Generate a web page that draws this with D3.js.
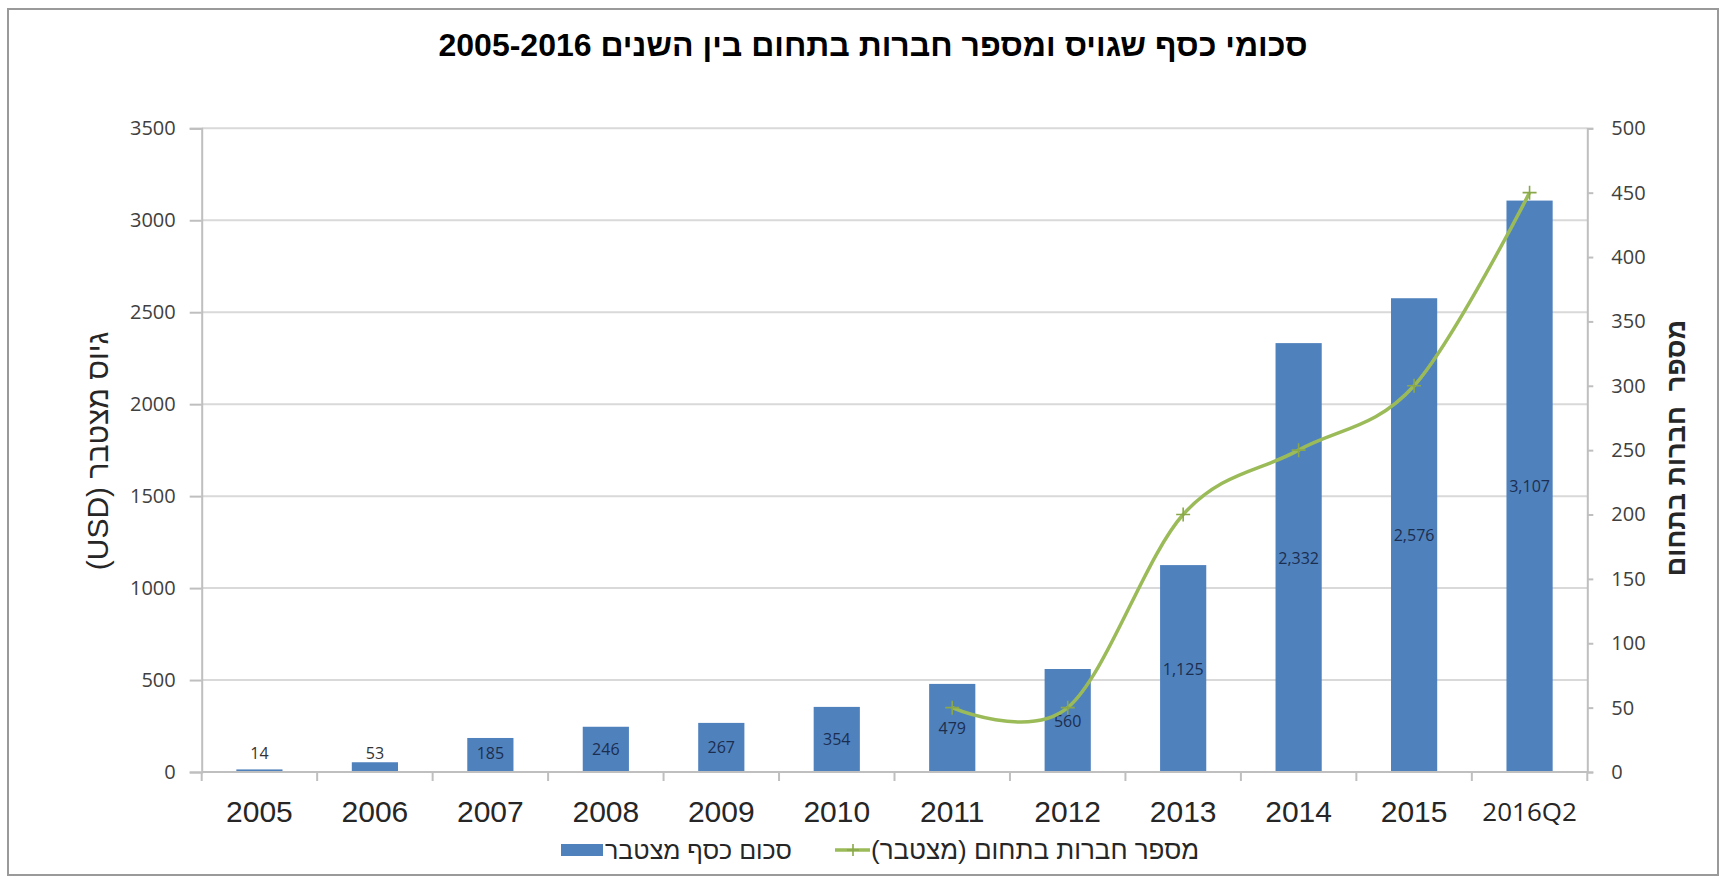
<!DOCTYPE html>
<html><head><meta charset="utf-8">
<script src="https://cdn.jsdelivr.net/npm/d3@7/dist/d3.min.js"></script>
<style>
html,body{margin:0;padding:0;background:#fff;}
svg{display:block;}
</style></head>
<body>
<svg id="chart" width="1723" height="882"></svg>
<script>
// ---- data ----
const categories = ["2005","2006","2007","2008","2009","2010","2011","2012","2013","2014","2015","2016Q2"];
const amounts = [14, 53, 185, 246, 267, 354, 479, 560, 1125, 2332, 2576, 3107];
const amountLabels = ["14","53","185","246","267","354","479","560","1,125","2,332","2,576","3,107"];
const companies = [null, null, null, null, null, null, 50, 50, 200, 250, 300, 450];
const leftTicks = [0, 500, 1000, 1500, 2000, 2500, 3000, 3500];
const rightTicks = [0, 50, 100, 150, 200, 250, 300, 350, 400, 450, 500];
const title = "סכומי כסף שגויס ומספר חברות בתחום בין השנים 2005-2016";
const leftAxisTitle = "גיוס מצטבר (USD)";
const rightAxisTitle = "מספר  חברות בתחום";
const barSeriesName = "סכום כסף מצטבר";
const lineSeriesName = "מספר חברות בתחום (מצטבר)";

// ---- layout ----
const svg = d3.select("#chart");
const plotL = 201.7, plotR = 1587.3, plotT = 128.3, plotB = 772;
const barColor = "#4f81bd", lineColor = "#9bbb59";
const gridColor = "#d9d9d9", axisColor = "#bfbfbf", textColor = "#404040";

// outer border
svg.append("rect").attr("x", 8).attr("y", 9).attr("width", 1710).attr("height", 866)
  .attr("fill", "none").attr("stroke", "#9a9a9a").attr("stroke-width", 2);

const x = d3.scaleBand().domain(categories).range([plotL, plotR]).paddingInner(0.6).paddingOuter(0.3);
const yL = d3.scaleLinear().domain([0, 3500]).range([plotB, plotT]);
const yR = d3.scaleLinear().domain([0, 500]).range([plotB, plotT]);
const step = x.step();
const bw = x.bandwidth();

// gridlines
svg.append("g").selectAll("line").data(leftTicks.filter(d => d > 0)).join("line")
  .attr("x1", plotL).attr("x2", plotR)
  .attr("y1", d => yL(d)).attr("y2", d => yL(d))
  .attr("stroke", gridColor).attr("stroke-width", 2);

// left axis
const gL = svg.append("g").attr("transform", `translate(${plotL},0)`)
  .call(d3.axisLeft(yL).tickValues(leftTicks).tickSize(12).tickPadding(14).tickFormat(d3.format("d")));
gL.select(".domain").attr("stroke", axisColor).attr("stroke-width", 2);
gL.selectAll(".tick line").attr("stroke", axisColor).attr("stroke-width", 2);
gL.selectAll(".tick text").attr("font-family", "Open Sans").attr("font-size", 20).attr("fill", textColor);

// right axis
const gR = svg.append("g").attr("transform", `translate(${plotR},0)`)
  .call(d3.axisRight(yR).tickValues(rightTicks).tickSize(6).tickPadding(18).tickFormat(d3.format("d")));
gR.select(".domain").attr("stroke", axisColor).attr("stroke-width", 2);
gR.selectAll(".tick line").attr("stroke", axisColor).attr("stroke-width", 2);
gR.selectAll(".tick text").attr("font-family", "Open Sans").attr("font-size", 20).attr("fill", textColor);

// bars
svg.append("g").selectAll("rect").data(categories).join("rect")
  .attr("x", d => x(d)).attr("width", bw)
  .attr("y", (d, i) => yL(amounts[i]))
  .attr("height", (d, i) => yL(0) - yL(amounts[i]))
  .attr("fill", barColor);

// bottom axis line + boundary ticks
svg.append("line").attr("x1", plotL).attr("x2", plotR).attr("y1", plotB).attr("y2", plotB)
  .attr("stroke", axisColor).attr("stroke-width", 2);
svg.append("g").selectAll("line").data(d3.range(categories.length + 1)).join("line")
  .attr("x1", i => x(categories[0]) - step * 0.3 + i * step)
  .attr("x2", i => x(categories[0]) - step * 0.3 + i * step)
  .attr("y1", plotB).attr("y2", plotB + 9)
  .attr("stroke", axisColor).attr("stroke-width", 2);

// category labels
svg.append("g").selectAll("text").data(categories).join("text")
  .attr("x", d => x(d) + bw / 2).attr("y", 811)
  .attr("text-anchor", "middle").attr("dominant-baseline", "central")
  .attr("font-family", d => d.includes("Q") ? "Open Sans" : "Liberation Sans")
  .attr("font-size", d => d.includes("Q") ? 26 : 30)
  .attr("fill", "#262626")
  .text(d => d);

// bar data labels
svg.append("g").selectAll("text").data(categories).join("text")
  .attr("x", d => x(d) + bw / 2)
  .attr("y", (d, i) => Math.min((yL(amounts[i]) + yL(0)) / 2, yL(0) - 19))
  .attr("text-anchor", "middle").attr("dominant-baseline", "central")
  .attr("font-family", "Open Sans").attr("font-size", 16)
  .attr("fill", (d, i) => amounts[i] < 100 ? "#333" : "#1c2e4f")
  .text((d, i) => amountLabels[i]);

// line
const line = d3.line()
  .defined(d => d.v != null)
  .x(d => x(d.c) + bw / 2)
  .y(d => yR(d.v))
  .curve(d3.curveCatmullRom.alpha(0));
const lineData = categories.map((c, i) => ({c, v: companies[i]}));
svg.append("path").datum(lineData).attr("d", line)
  .attr("fill", "none").attr("stroke", lineColor).attr("stroke-width", 3.5);
svg.append("g").selectAll("path").data(lineData.filter(d => d.v != null)).join("path")
  .attr("transform", d => `translate(${x(d.c) + bw / 2},${yR(d.v)})`)
  .attr("d", "M-7,0H7M0,-7V7")
  .attr("stroke", "#8aa84a").attr("stroke-width", 1.6).attr("fill", "none");

// title
svg.append("text").attr("x", 873).attr("y", 45)
  .attr("direction", "rtl").attr("text-anchor", "middle").attr("dominant-baseline", "central")
  .attr("font-family", "Liberation Sans").attr("font-weight", "bold").attr("font-size", 32)
  .attr("fill", "#000").text(title);

// axis titles
svg.append("text").attr("transform", "translate(97,451) rotate(-90)")
  .attr("direction", "rtl").attr("text-anchor", "middle").attr("dominant-baseline", "central")
  .attr("font-family", "Liberation Sans").attr("font-size", 30).attr("fill", "#262626")
  .text(leftAxisTitle);
svg.append("text").attr("transform", "translate(1676,448) rotate(-90)")
  .attr("direction", "rtl").attr("text-anchor", "middle").attr("dominant-baseline", "central")
  .style("white-space", "pre")
  .attr("font-family", "Liberation Sans").attr("font-weight", "bold").attr("font-size", 27).attr("fill", "#262626")
  .text(rightAxisTitle);

// legend
const legY = 850;
const lg = svg.append("g");
lg.append("rect").attr("x", 561).attr("y", legY - 6).attr("width", 42).attr("height", 12).attr("fill", barColor);
const t1 = lg.append("text").attr("y", legY)
  .attr("direction", "rtl").attr("text-anchor", "start").attr("dominant-baseline", "central")
  .attr("font-family", "Liberation Sans").attr("font-size", 25).attr("fill", "#262626")
  .text(barSeriesName);
t1.attr("x", 605 + t1.node().getComputedTextLength());
lg.append("line").attr("x1", 835).attr("x2", 870).attr("y1", legY).attr("y2", legY)
  .attr("stroke", lineColor).attr("stroke-width", 3.5);
lg.append("path").attr("transform", `translate(853,${legY})`).attr("d", "M-6,0H6M0,-6V6")
  .attr("stroke", "#8aa84a").attr("stroke-width", 1.6);
const t2 = lg.append("text").attr("y", legY)
  .attr("direction", "rtl").attr("text-anchor", "start").attr("dominant-baseline", "central")
  .attr("font-family", "Liberation Sans").attr("font-size", 26).attr("fill", "#262626")
  .text(lineSeriesName);
t2.attr("x", 871 + t2.node().getComputedTextLength());
</script>
</body></html>
